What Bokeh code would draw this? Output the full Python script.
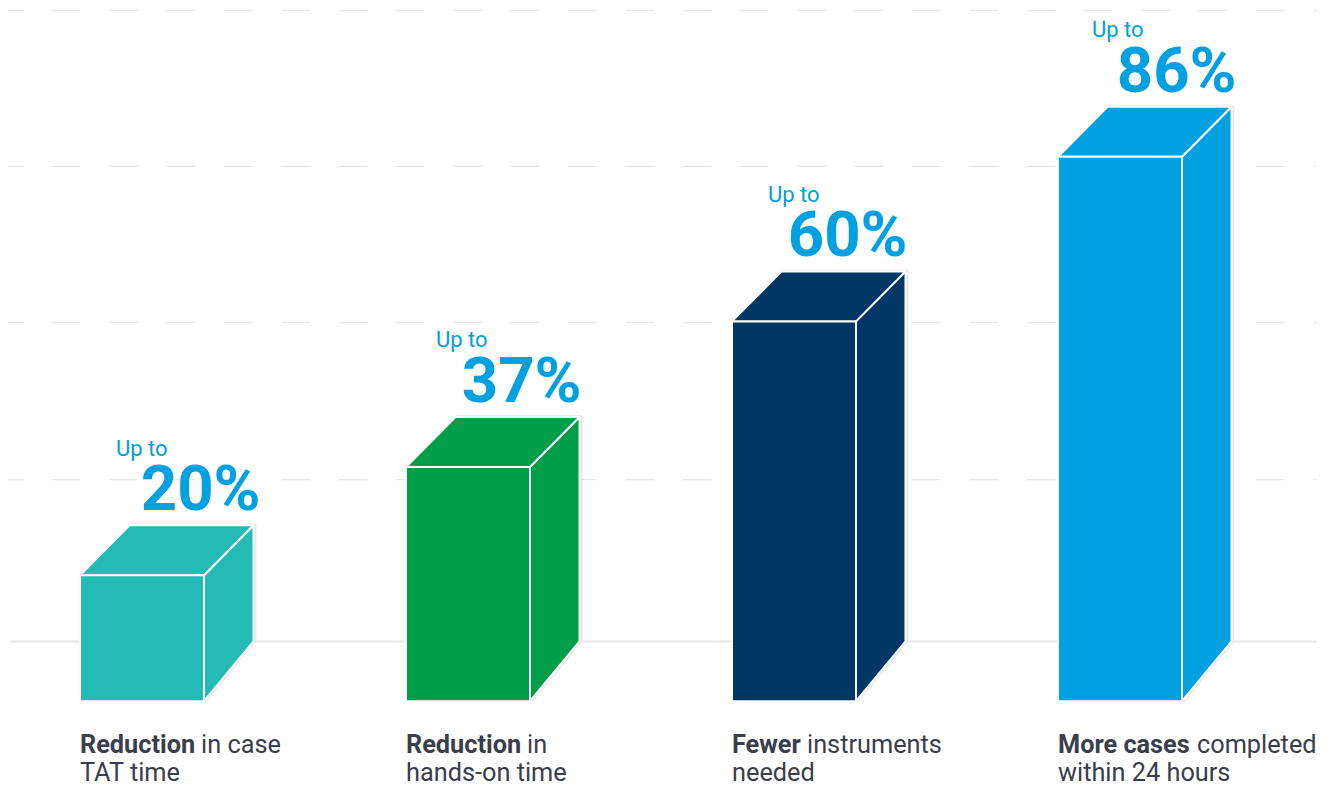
from bokeh.plotting import figure
from bokeh.models import Range1d
from bokeh.core.properties import value
from bokeh.embed import file_html
from bokeh.resources import INLINE

# data
values = [19.9, 37, 60, 86]
positions = [0, 1, 2, 3]
colors = ["#25BBB5", "#009E49", "#003764", "#00A0E1"]
pct_labels = ["20%", "37%", "60%", "86%"]
bold_labels = ["Reduction", "Reduction", "Fewer", "More cases"]
rest_labels = ["in case", "in", "instruments", "completed"]
second_lines = ["TAT time", "hands-on time", "needed", "within 24 hours"]
grid_values = [35.0, 59.8, 84.5, 109.1]
base_value = 9.43

# layout
W, H = 1333, 787
PX_X = 326.0      # pixels per category
PX_Y = 6.33       # pixels per percent
half = 62 / PX_X
dx = 49.5 / PX_X
top_dy = 50 / PX_Y
bottom_dy = 59.7 / PX_Y
bold_adv = [121, 121, 75, 139]
upto_dx = [35, 29, 35, 33]
pct_dx = [7, 2, 2, 5]
LBL_SIZE = 25.3
LBL = f"{LBL_SIZE}px"
EM = 0.37

x0 = (0 - 141.5) / PX_X
y0 = (700.7 - 787) / PX_Y
p = figure(width=W, height=H, output_backend="svg", toolbar_location=None,
           x_range=Range1d(x0, x0 + W / PX_X), y_range=Range1d(y0, y0 + H / PX_Y),
           min_border=0, outline_line_color=None, background_fill_color="white",
           border_fill_color="white")
p.axis.visible = False
p.grid.visible = False

x_start = x0 + 8 / PX_X
x_end = x0 + 1316 / PX_X
p.segment([x_start] * len(grid_values), grid_values, [x_end] * len(grid_values), grid_values,
          line_color="#E6E6E6", line_width=1.3, line_dash="29 28 29 29 29 28", line_dash_offset=14)
p.segment([x_start + 2 / PX_X], [base_value], [x_end], [base_value], line_color="#E8E8E8", line_width=2)

for i, v, c in zip(positions, values, colors):
    l, r = i - half, i + half
    rb = r + dx
    lb = l + dx
    sil_x = [l, lb, rb, rb, r, l]
    sil_y = [v, v + top_dy, v + top_dy, bottom_dy, 0, 0]
    # faint halo around the block
    p.patch([a + 1.6 / PX_X for a in sil_x], [b + 0.4 / PX_Y for b in sil_y], fill_color=None,
            line_color="#E6E6E6", line_width=2.5)
    p.patch(sil_x, sil_y, fill_color=c, line_color="#EEF2F2", line_width=1.5)
    p.patch([r, rb, rb, r], [v, v + top_dy, bottom_dy, 0], fill_color=c, line_color="white",
            line_width=2)
    p.patch([l, r, rb, lb], [v, v, v + top_dy, v + top_dy], fill_color=c, line_color="white",
            line_width=2)
    p.patch([l, r, r, l], [0, 0, v, v], fill_color=c, line_color="white", line_width=2)

    p.text([l], [v + top_dy], text=["Up to"], text_font=value("Roboto"), text_font_size="22px",
           text_color="#00A0E1", text_baseline="alphabetic", text_align="left",
           x_offset=upto_dx[i] + 1, y_offset=-69 - EM * 22)
    p.text([rb], [v + top_dy], text=[pct_labels[i]], text_font=value("Roboto"), text_font_size="63.5px",
           text_font_style="bold", text_color="#00A0E1", text_baseline="alphabetic", text_align="right",
           x_offset=pct_dx[i], y_offset=-13 - EM * 63.5)
    p.text([l], [0], text=[bold_labels[i]], text_font=value("Roboto"), text_font_size=LBL,
           text_font_style="bold", text_color="#3A3D4A", text_baseline="alphabetic",
           x_offset=0, y_offset=52.3 - EM * LBL_SIZE)
    p.text([l], [0], text=[rest_labels[i]], text_font=value("Roboto"), text_font_size=LBL,
           text_color="#3A3D4A", text_baseline="alphabetic", x_offset=bold_adv[i],
           y_offset=52.3 - EM * LBL_SIZE)
    p.text([l], [0], text=[second_lines[i]], text_font=value("Roboto"), text_font_size=LBL,
           text_color="#3A3D4A", text_baseline="alphabetic", x_offset=0, y_offset=80.3 - EM * LBL_SIZE)

open("out.html", "w").write(file_html(p, INLINE))
